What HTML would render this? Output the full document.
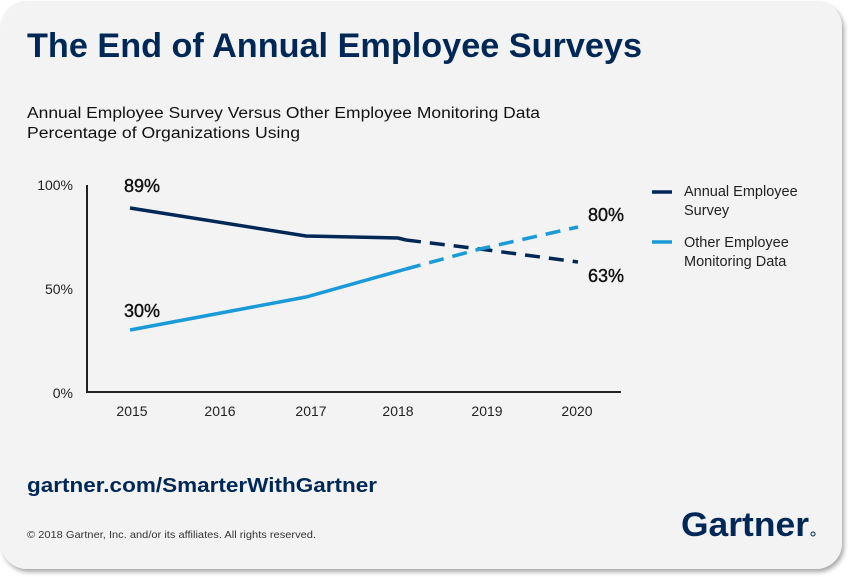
<!DOCTYPE html>
<html><head><meta charset="utf-8"><style>
html,body{margin:0;padding:0;background:#fff;}
svg{display:block;font-family:"Liberation Sans",sans-serif;}
</style></head><body>
<svg width="851" height="577" viewBox="0 0 851 577" xmlns="http://www.w3.org/2000/svg">
<defs><filter id="sh" x="-5%" y="-5%" width="110%" height="110%"><feDropShadow dx="2" dy="3" stdDeviation="2.5" flood-color="#000" flood-opacity="0.35"/></filter></defs>
<rect x="1" y="1" width="841" height="568" rx="26" fill="#f3f3f3" filter="url(#sh)"/>
<text x="27" y="57" font-size="34" font-weight="bold" fill="#002856" textLength="615" lengthAdjust="spacingAndGlyphs">The End of Annual Employee Surveys</text>
<text x="27" y="118" font-size="15.5" fill="#111" textLength="513" lengthAdjust="spacingAndGlyphs">Annual Employee Survey Versus Other Employee Monitoring Data</text>
<text x="27" y="138" font-size="15.5" fill="#111" textLength="273" lengthAdjust="spacingAndGlyphs">Percentage of Organizations Using</text>
<g font-size="14" fill="#222" text-anchor="end">
<text x="73" y="190">100%</text><text x="73" y="294">50%</text><text x="73" y="398">0%</text>
</g>
<path d="M87 185 V392 H621" fill="none" stroke="#222" stroke-width="2"/>
<g font-size="14" fill="#222" text-anchor="middle">
<text x="132" y="416">2015</text><text x="220" y="416">2016</text><text x="311" y="416">2017</text><text x="398" y="416">2018</text><text x="487" y="416">2019</text><text x="577" y="416">2020</text>
</g>
<path d="M130 208 L306 236 L398 238 L406 240" fill="none" stroke="#002856" stroke-width="3.5"/>
<path d="M406 240 L480 249 L578 262" fill="none" stroke="#002856" stroke-width="3.5" stroke-dasharray="15,9"/>
<path d="M130 330 L306 297 L406 269" fill="none" stroke="#1a9ad8" stroke-width="3.5"/>
<path d="M406 269 L480 249 L578 227" fill="none" stroke="#1a9ad8" stroke-width="3.5" stroke-dasharray="15,9"/>
<g font-size="18" fill="#111" stroke="#111" stroke-width="0.4">
<text x="124" y="192">89%</text><text x="124" y="317">30%</text><text x="588" y="221">80%</text><text x="588" y="282">63%</text>
</g>
<line x1="652" y1="192" x2="672" y2="192" stroke="#002856" stroke-width="3.5"/>
<line x1="652" y1="242" x2="672" y2="242" stroke="#1a9ad8" stroke-width="3.5"/>
<g font-size="14.5" fill="#222">
<text x="684" y="196">Annual Employee</text><text x="684" y="215">Survey</text>
<text x="684" y="247">Other Employee</text><text x="684" y="266">Monitoring Data</text>
</g>
<text x="27" y="492" font-size="20" font-weight="bold" fill="#002856" textLength="350" lengthAdjust="spacingAndGlyphs">gartner.com/SmarterWithGartner</text>
<text x="27" y="538" font-size="10.5" fill="#333" textLength="289" lengthAdjust="spacingAndGlyphs">© 2018 Gartner, Inc. and/or its affiliates. All rights reserved.</text>
<text x="681" y="536" font-size="34" font-weight="bold" fill="#002856" textLength="128" lengthAdjust="spacingAndGlyphs">Gartner</text>
<circle cx="813" cy="534" r="2" fill="none" stroke="#002856" stroke-width="1"/>
</svg>
</body></html>
